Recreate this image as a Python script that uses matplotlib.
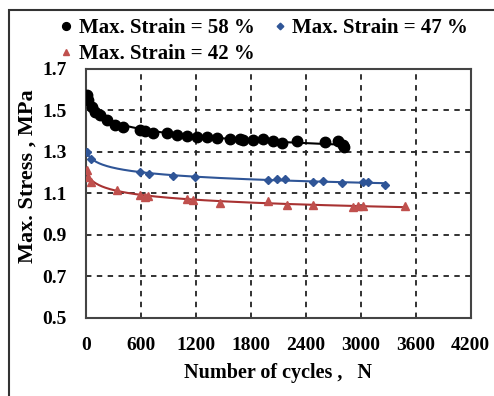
import numpy as np
import matplotlib
matplotlib.use('Agg')
import matplotlib.pyplot as plt
from matplotlib.patches import Rectangle
from matplotlib.lines import Line2D

# Readings from the picture: number of cycles and max. stress (MPa)
n_58 = [10, 22, 65, 100, 150, 230, 320, 400, 590, 645, 730, 880, 990, 1100, 1210, 1320,
        1430, 1570, 1680, 1710, 1820, 1930, 2040, 2140, 2300, 2610, 2750, 2800, 2820]
s_58 = [1.575, 1.55, 1.517, 1.49, 1.478, 1.455, 1.43, 1.42, 1.405, 1.40, 1.39, 1.39, 1.38,
        1.377, 1.373, 1.37, 1.367, 1.362, 1.36, 1.357, 1.357, 1.36, 1.355, 1.345, 1.355,
        1.35, 1.355, 1.335, 1.325]

n_47 = [10, 55, 590, 690, 950, 1190, 1985, 2080, 2170, 2480, 2590, 2790, 3020, 3080, 3260]
s_47 = [1.30, 1.266, 1.204, 1.194, 1.185, 1.18, 1.165, 1.17, 1.17, 1.155, 1.158, 1.15,
        1.155, 1.155, 1.14]

n_42 = [10, 20, 55, 340, 590, 645, 680, 1100, 1170, 1460, 1985, 2190, 2480, 2910, 2970,
        3020, 3480]
s_42 = [1.213, 1.18, 1.155, 1.117, 1.093, 1.085, 1.088, 1.075, 1.07, 1.055, 1.064, 1.045,
        1.045, 1.035, 1.04, 1.04, 1.04]

x_ticks = [0, 600, 1200, 1800, 2400, 3000, 3600, 4200]
y_ticks = [0.5, 0.7, 0.9, 1.1, 1.3, 1.5, 1.7]

plt.rcParams['font.family'] = ['Liberation Serif', 'DejaVu Serif']
plt.rcParams['font.weight'] = 'bold'
plt.rcParams['axes.labelweight'] = 'bold'

fig = plt.figure(figsize=(4.94, 3.96), dpi=100)
ax = fig.add_axes([0.174, 0.197, 0.779, 0.629])

def trend(n, s):
    # power-law trendline through the points
    n = np.asarray(n, float)
    s = np.asarray(s, float)
    b, a = np.polyfit(np.log(n + 30), np.log(s), 1)
    xx = np.linspace(0, n.max(), 200)
    return xx, np.exp(a) * (xx + 30) ** b

series = [
    (n_58, s_58, 'o', 'black', 'black', 7.5, 'Max. Strain = 58 %'),
    (n_47, s_47, 'D', '#2f5597', '#2f5597', 4.5, 'Max. Strain = 47 %'),
    (n_42, s_42, '^', '#c0504d', '#a83232', 5.5, 'Max. Strain = 42 %'),
]
handles = {}
for n, s, m, mc, lc, ms, lab in series:
    xx, yy = trend(n, s)
    ax.plot(xx, yy, color=lc, lw=1.5, zorder=2)
    ax.plot(n, s, m, color=mc, ms=ms, zorder=3)
    handles[lab] = Line2D([], [], ls='', marker=m, color=mc, ms=ms * 0.75)

ax.set_xlim(0, 4200)
ax.set_ylim(0.5, 1.7)
ax.set_xticks(x_ticks)
ax.set_yticks(y_ticks)
ax.set_yticklabels(['%.1f' % v for v in y_ticks])
ax.tick_params(length=0, labelsize=14, pad=14)
ax.tick_params(axis='x', pad=14)
ax.grid(True, color='#222222', ls=(0, (3, 3)), lw=1.3)
for sp in ax.spines.values():
    sp.set_color('#444444')
    sp.set_linewidth(1.5)

ax.set_xlabel('Number of cycles ,   N', fontsize=14.5, labelpad=6)
ax.set_ylabel('Max. Stress , MPa', fontsize=16)
ax.yaxis.set_label_coords(-0.125, 0.57)

labs = ['Max. Strain = 58 %', 'Max. Strain = 42 %', 'Max. Strain = 47 %']
fig.legend([handles[l] for l in labs], labs, ncol=2, loc='upper left',
           bbox_to_anchor=(0.105, 0.975), frameon=False, fontsize=15,
           handlelength=0.6, handletextpad=0.3, columnspacing=0.9,
           labelspacing=0.3, borderaxespad=0)

# outer frame around the whole figure
fig.patches.append(Rectangle((0.019, -0.2), 1.2, 1.175, transform=fig.transFigure,
                             fill=False, ec='#333333', lw=1.5))

fig.savefig('out.png', dpi=100)
